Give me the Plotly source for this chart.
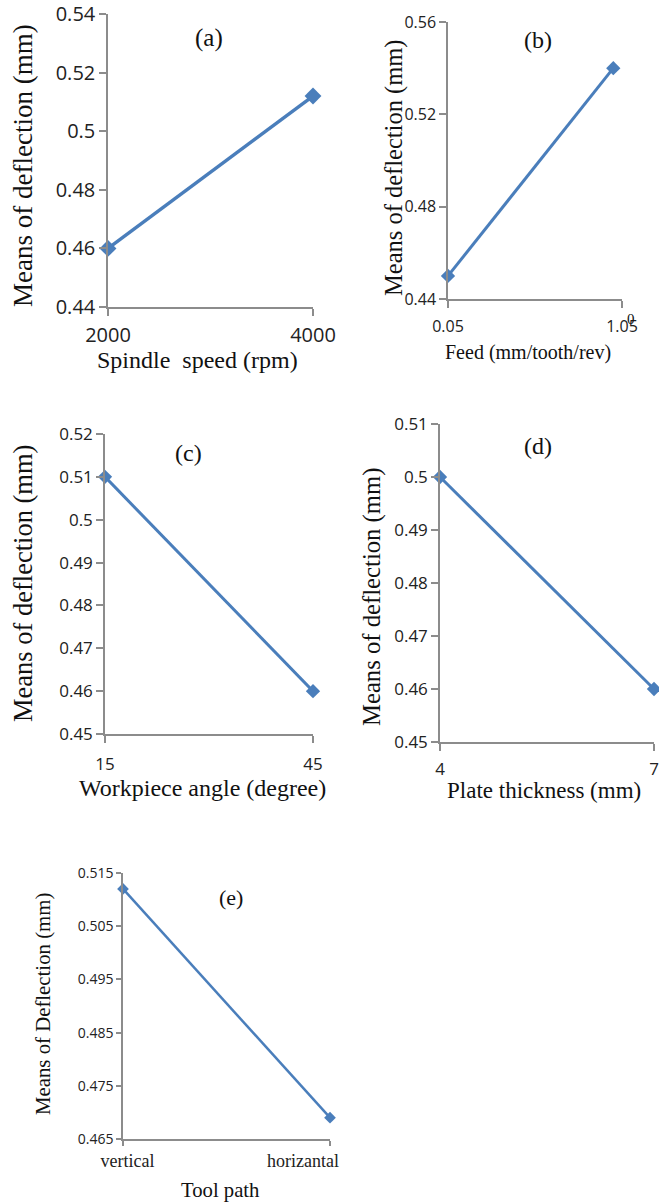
import plotly.graph_objects as go

W, H = 659, 1203

# ---- data ----
a_x = [2000, 4000]
a_y = [0.46, 0.512]
a_yticks = [0.44, 0.46, 0.48, 0.50, 0.52, 0.54]
a_ytext = ["0.44", "0.46", "0.48", "0.5", "0.52", "0.54"]

b_x = [0.05, 1.0]
b_y = [0.45, 0.54]
b_xticks = [0.05, 1.05]
b_xtext = ["0.05", "1.05"]
b_yticks = [0.44, 0.48, 0.52, 0.56]
b_ytext = ["0.44", "0.48", "0.52", "0.56"]

c_x = [15, 45]
c_y = [0.51, 0.46]
c_yticks = [0.45, 0.46, 0.47, 0.48, 0.49, 0.50, 0.51, 0.52]
c_ytext = ["0.45", "0.46", "0.47", "0.48", "0.49", "0.5", "0.51", "0.52"]

d_x = [4, 7]
d_y = [0.50, 0.46]
d_yticks = [0.45, 0.46, 0.47, 0.48, 0.49, 0.50, 0.51]
d_ytext = ["0.45", "0.46", "0.47", "0.48", "0.49", "0.5", "0.51"]

e_cats = ["vertical", "horizantal"]
e_y = [0.512, 0.469]
e_yticks = [0.465, 0.475, 0.485, 0.495, 0.505, 0.515]
e_ytext = ["0.465", "0.475", "0.485", "0.495", "0.505", "0.515"]

BLUE = "#4a7ebb"
AXC = "#8c8c8c"
TICKF = "Open Sans"
SERIF = "Liberation Serif"
NB = "\u00a0"

def px(x):
    return x / W

def py(y):
    return 1 - y / H

fig = go.Figure()

# tick labels of panel (e) sit slightly inward of the ticks in the reference
e_ticktext = [NB * 2 + e_cats[0], e_cats[1] + NB * 12]

panels = [
    dict(x=a_x, y=a_y, xd=(108, 313), yd=(14, 307), xr=[2000, 4000], xt=a_x, xtt=["2000", "4000"],
         yr=[0.44, 0.54], yt=a_yticks, ytt=a_ytext, tf=20, xtf=dict(family=TICKF, size=20, color="#222"),
         lw=3.5, ms=13, so=2, tl=7),
    dict(x=b_x, y=b_y, xd=(448, 622), yd=(22, 299), xr=[0.05, 1.05], xt=b_xticks, xtt=b_xtext,
         yr=[0.44, 0.56], yt=b_yticks, ytt=b_ytext, tf=16, xtf=dict(family=TICKF, size=16, color="#222"),
         lw=3, ms=11, so=5, tl=7),
    dict(x=c_x, y=c_y, xd=(105, 313), yd=(434, 734), xr=[15, 45], xt=c_x, xtt=["15", "45"],
         yr=[0.45, 0.52], yt=c_yticks, ytt=c_ytext, tf=17, xtf=dict(family=TICKF, size=17, color="#222"),
         lw=3, ms=11, so=7, tl=7),
    dict(x=d_x, y=d_y, xd=(440, 654), yd=(424, 742), xr=[4, 7], xt=d_x, xtt=["4", "7"],
         yr=[0.45, 0.51], yt=d_yticks, ytt=d_ytext, tf=17, xtf=dict(family=TICKF, size=17, color="#222"),
         lw=3, ms=11, so=4, tl=7),
    dict(x=[0, 1], y=e_y, xd=(123, 330), yd=(873, 1139), xr=[0, 1], xt=[0, 1], xtt=e_ticktext,
         yr=[0.465, 0.515], yt=e_yticks, ytt=e_ytext, tf=14, xtf=dict(family=SERIF, size=18, color="#222"),
         lw=2.5, ms=9, so=0, tl=5),
]

layout = {}
for i, p in enumerate(panels, start=1):
    xa = "x" if i == 1 else f"x{i}"
    ya = "y" if i == 1 else f"y{i}"
    fig.add_trace(go.Scatter(
        x=p["x"], y=p["y"], xaxis=xa, yaxis=ya, mode="lines+markers",
        line=dict(color=BLUE, width=p["lw"]),
        marker=dict(symbol="diamond", size=p["ms"], color=BLUE),
        cliponaxis=False, showlegend=False, hoverinfo="skip"))
    xk = "xaxis" if i == 1 else f"xaxis{i}"
    yk = "yaxis" if i == 1 else f"yaxis{i}"
    layout[xk] = dict(
        domain=[px(p["xd"][0]), px(p["xd"][1])], anchor=ya, range=p["xr"],
        tickmode="array", tickvals=p["xt"], ticktext=p["xtt"], automargin=False,
        showgrid=False, zeroline=False, showline=True, linecolor=AXC, linewidth=1.5,
        ticks="outside", ticklen=p["tl"], tickcolor=AXC, tickwidth=1.5,
        ticklabeloverflow="allow",
        tickfont=p["xtf"], ticklabelstandoff=p["so"], fixedrange=True)
    layout[yk] = dict(
        domain=[py(p["yd"][1]), py(p["yd"][0])], anchor=xa, range=p["yr"],
        tickmode="array", tickvals=p["yt"], ticktext=p["ytt"], automargin=False,
        showgrid=False, zeroline=False, showline=True, linecolor=AXC, linewidth=1.5,
        ticks="outside", ticklen=p["tl"], tickcolor=AXC, tickwidth=1.5,
        ticklabeloverflow="allow",
        tickfont=dict(family=TICKF, size=p["tf"], color="#222"), fixedrange=True)

fig.update_layout(**layout)

ann = []
def text(t, x, y, size, angle=0, family=SERIF):
    ann.append(dict(text=t, x=px(x), y=py(y), xref="paper", yref="paper",
                    xanchor="center", yanchor="middle", showarrow=False,
                    textangle=angle, font=dict(family=family, size=size, color="#111")))

# y titles
text("Means of deflection (mm)", 23, 166, 27, -90)
text("Means of deflection (mm)", 394, 168, 24.5, -90)
text("Means of deflection (mm)", 23, 584, 26.5, -90)
text("Means of deflection (mm)", 372, 597, 24.7, -90)
text("Means of Deflection (mm)", 43, 1004, 20.8, -90)
# x titles
text("Spindle  speed (rpm)", 197, 360, 24)
text("Feed (mm/tooth/rev)", 528, 352, 20)
text("Workpiece angle (degree)", 202, 788, 24)
text("Plate thickness (mm)", 544, 790, 23)
text("Tool path", 220, 1190, 20.7)
# panel labels
text("(a)", 209, 38, 25)
text("(b)", 538, 40, 24)
text("(c)", 188, 453, 24)
text("(d)", 538, 446, 24)
text("(e)", 231, 897, 22)
# stray overlapping glyph in panel (b) tick label
text("0", 631, 319, 15)

fig.update_layout(annotations=ann, width=W, height=H,
                  margin=dict(l=0, r=0, t=0, b=0, pad=0),
                  paper_bgcolor="white", plot_bgcolor="white")

fig.write_html("out.html", config={"displayModeBar": False},
               post_script="document.body.style.margin='0';document.body.style.overflow='hidden';")
